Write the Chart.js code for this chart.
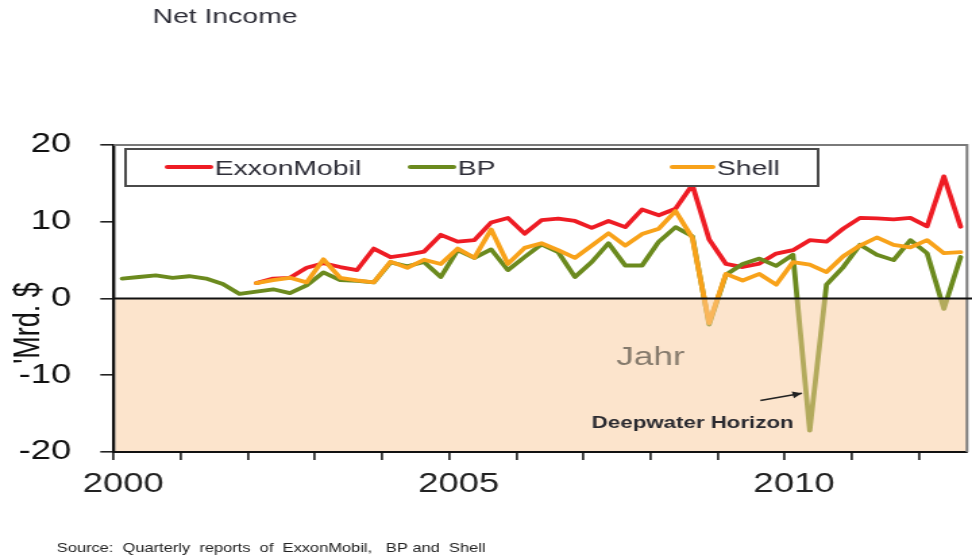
<!DOCTYPE html>
<html>
<head>
  <title>Net Income</title>
  <meta charset="UTF-8">
  <script src="https://cdn.jsdelivr.net/npm/chart.js"></script>
  <style>
    html, body {
      margin: 0;
      padding: 0;
      background: #fff;
      overflow: hidden;
    }

    #wrap {
      width: 972px;
      height: 559px;
      overflow: hidden;
    }

    /* the source picture is stretched sideways, so the canvas is too */
    #chart {
      display: block;
      transform: scaleX(1.35);
      transform-origin: 0 0;
    }
  </style>
</head>

<body>
  <div id="wrap"><canvas id="chart" width="720" height="559"></canvas></div>

  <script>
    const quarters = [
      '2000Q1', '2000Q2', '2000Q3', '2000Q4', '2001Q1', '2001Q2', '2001Q3', '2001Q4',
      '2002Q1', '2002Q2', '2002Q3', '2002Q4', '2003Q1', '2003Q2', '2003Q3', '2003Q4',
      '2004Q1', '2004Q2', '2004Q3', '2004Q4', '2005Q1', '2005Q2', '2005Q3', '2005Q4',
      '2006Q1', '2006Q2', '2006Q3', '2006Q4', '2007Q1', '2007Q2', '2007Q3', '2007Q4',
      '2008Q1', '2008Q2', '2008Q3', '2008Q4', '2009Q1', '2009Q2', '2009Q3', '2009Q4',
      '2010Q1', '2010Q2', '2010Q3', '2010Q4', '2011Q1', '2011Q2', '2011Q3', '2011Q4',
      '2012Q1', '2012Q2', '2012Q3'
    ];

    const exxonMobil = [
      null, null, null, null, null, null, null, null,
      2.0, 2.6, 2.7, 4.0, 4.6, 4.1, 3.7, 6.5,
      5.4, 5.7, 6.1, 8.3, 7.4, 7.6, 9.9, 10.5,
      8.45, 10.2, 10.4, 10.1, 9.2, 10.1, 9.3, 11.6,
      10.85, 11.7, 14.8, 7.7, 4.5, 4.1, 4.55, 5.85,
      6.3, 7.6, 7.4, 9.1, 10.5, 10.45, 10.3, 10.5,
      9.4, 15.9, 9.35
    ];

    const bp = [
      2.6, 2.8, 3.0, 2.7, 2.9, 2.6, 1.9, 0.6,
      0.9, 1.2, 0.7, 1.7, 3.4, 2.4, 2.3, 2.1,
      4.7, 4.2, 4.75, 2.8, 6.3, 5.3, 6.4, 3.7,
      5.4, 7.05, 6.05, 2.8, 4.75, 7.2, 4.3, 4.3,
      7.4, 9.3, 8.1, -3.4, 3.1, 4.5, 5.2, 4.25,
      5.7, -17.2, 1.8, 4.1, 7.0, 5.7, 5.0, 7.6,
      5.9, -1.35, 5.4
    ];

    const shell = [
      null, null, null, null, null, null, null, null,
      2.0, 2.4, 2.7, 2.1, 5.1, 2.7, 2.35, 2.1,
      4.8, 4.0, 5.05, 4.5, 6.5, 5.3, 9.0, 4.5,
      6.6, 7.2, 6.3, 5.3, 6.9, 8.5, 6.9, 8.4,
      9.1, 11.4, 7.9, -3.2, 3.2, 2.35, 3.2, 1.8,
      4.75, 4.4, 3.45, 5.5, 6.9, 7.95, 7.0, 6.65,
      7.6, 5.9, 6.05
    ];

    const yearLabels = [2000, 2005, 2010];
    const yTicks = [-20, -10, 0, 10, 20];

    const FONT = '"Liberation Sans", Arial, sans-serif';

    // mid-quarter position on the year axis
    function quarterToX(q) {
      const year = Number(q.slice(0, 4));
      const n = Number(q.slice(5));
      return year + (n - 0.5) / 4;
    }

    function toPoints(values) {
      return values.map((v, i) => ({ x: quarterToX(quarters[i]), y: v }));
    }

    // legend layout, canvas px
    const legendItems = [
      { line: [124, 156], text: 159 },
      { line: [304, 336], text: 339 },
      { line: [498, 528], text: 531 }
    ];

    const decorPlugin = {
      id: 'decor',
      afterDatasetsDraw(chart) {
        const ctx = chart.ctx;
        const a = chart.chartArea;
        const xs = chart.scales.x;
        const ys = chart.scales.y;
        const y0 = ys.getPixelForValue(0);

        ctx.save();

        // peach band below zero, laid over the lines
        ctx.fillStyle = 'rgba(249, 202, 154, 0.5)';
        ctx.fillRect(a.left + 1.2, y0, a.right - a.left - 1.2, a.bottom - y0 - 1);

        // frame top / right
        ctx.strokeStyle = '#7a7a7a';
        ctx.lineWidth = 2;
        ctx.beginPath();
        ctx.moveTo(a.left, a.top);
        ctx.lineTo(a.right, a.top);
        ctx.lineTo(a.right, a.bottom);
        ctx.stroke();

        // zero line
        ctx.strokeStyle = '#111';
        ctx.lineWidth = 2;
        ctx.beginPath();
        ctx.moveTo(a.left, y0);
        ctx.lineTo(chart.width, y0);
        ctx.stroke();

        // legend box
        ctx.fillStyle = '#fff';
        ctx.fillRect(93, 149, 513, 37);
        ctx.strokeStyle = '#4a4a4a';
        ctx.lineWidth = 2;
        ctx.strokeRect(93, 149, 513, 37);
        ctx.font = '21px ' + FONT;
        ctx.textBaseline = 'alphabetic';
        ctx.textAlign = 'left';
        chart.data.datasets.forEach((ds, i) => {
          const it = legendItems[i];
          ctx.strokeStyle = ds.borderColor;
          ctx.lineWidth = 4;
          ctx.lineCap = 'round';
          ctx.beginPath();
          ctx.moveTo(it.line[0], 167);
          ctx.lineTo(it.line[1], 167);
          ctx.stroke();
          ctx.fillStyle = '#2e2e38';
          ctx.fillText(ds.label, it.text, 175);
        });

        // "Jahr"
        ctx.font = '26px ' + FONT;
        ctx.fillStyle = '#857a6c';
        ctx.textAlign = 'center';
        ctx.fillText('Jahr', xs.getPixelForValue(2008.0), 365);

        // Deepwater Horizon note + arrow
        ctx.font = 'bold 16.5px ' + FONT;
        ctx.fillStyle = '#2a2a30';
        ctx.fillText('Deepwater Horizon', xs.getPixelForValue(2008.63), 428);

        const tx = xs.getPixelForValue(2009.64), ty = ys.getPixelForValue(-13.3);
        const hx = xs.getPixelForValue(2010.26), hy = ys.getPixelForValue(-12.35);
        ctx.strokeStyle = '#222';
        ctx.fillStyle = '#222';
        ctx.lineWidth = 1.6;
        ctx.lineCap = 'butt';
        ctx.beginPath();
        ctx.moveTo(tx, ty);
        ctx.lineTo(hx, hy);
        ctx.stroke();
        const ang = Math.atan2(hy - ty, hx - tx);
        ctx.beginPath();
        ctx.moveTo(hx, hy);
        ctx.lineTo(hx - 7 * Math.cos(ang) + 3.5 * Math.sin(ang), hy - 7 * Math.sin(ang) - 3.5 * Math.cos(ang));
        ctx.lineTo(hx - 7 * Math.cos(ang) - 3.5 * Math.sin(ang), hy - 7 * Math.sin(ang) + 3.5 * Math.cos(ang));
        ctx.closePath();
        ctx.fill();

        ctx.restore();
      },
      afterDraw(chart) {
        const ctx = chart.ctx;
        ctx.save();

        // title
        ctx.font = '21px ' + FONT;
        ctx.fillStyle = '#2e2e38';
        ctx.textAlign = 'left';
        ctx.textBaseline = 'alphabetic';
        ctx.fillText('Net Income', 113, 23);

        // y axis title, sits over the tick labels like the source
        ctx.translate(22, 323);
        ctx.rotate(-Math.PI / 2);
        ctx.font = '27px ' + FONT;
        ctx.fillStyle = '#111';
        ctx.textAlign = 'center';
        ctx.textBaseline = 'middle';
        ctx.fillText("'Mrd. $", 0, 0);
        ctx.setTransform(1, 0, 0, 1, 0, 0);

        // source
        ctx.font = '12.2px ' + FONT;
        ctx.fillStyle = '#222';
        ctx.textAlign = 'left';
        ctx.textBaseline = 'alphabetic';
        ctx.fillText('Source:  Quarterly  reports  of  ExxonMobil,   BP and  Shell', 42, 552);

        ctx.restore();
      }
    };

    const ctx = document.getElementById('chart').getContext('2d');

    new Chart(ctx, {
      type: 'line',
      data: {
        datasets: [
          { label: 'ExxonMobil', data: toPoints(exxonMobil), borderColor: '#ee1c24', order: 3 },
          { label: 'BP', data: toPoints(bp), borderColor: '#6b8a1e', order: 2 },
          { label: 'Shell', data: toPoints(shell), borderColor: '#f8a21a', order: 1 }
        ]
      },
      options: {
        responsive: false,
        animation: false,
        devicePixelRatio: 1,
        layout: { padding: { top: 145, right: 3.7, bottom: 0, left: 0 } },
        plugins: {
          legend: { display: false },
          tooltip: { enabled: false }
        },
        elements: {
          point: { radius: 0, hoverRadius: 0 },
          line: { borderWidth: 3.8, tension: 0, borderJoinStyle: 'round', borderCapStyle: 'round', fill: false }
        },
        scales: {
          x: {
            type: 'linear',
            min: 2000,
            max: 2012.72,
            afterFit: s => { s.height = 107; },
            border: { display: true, color: '#111', width: 2 },
            grid: { drawOnChartArea: false, drawTicks: true, tickLength: 8, color: '#333', lineWidth: 1.8 },
            ticks: {
              stepSize: 1,
              includeBounds: false,
              autoSkip: false,
              maxRotation: 0,
              labelOffset: 7,
              padding: 8,
              color: '#222',
              font: { family: FONT, size: 27 },
              callback: v => yearLabels.includes(v) ? String(v) : ''
            }
          },
          y: {
            min: -20,
            max: 20,
            afterFit: s => { s.width = 84.3; },
            afterBuildTicks: s => { s.ticks = yTicks.map(v => ({ value: v })); },
            border: { display: true, color: '#111', width: 2.4 },
            grid: { drawOnChartArea: false, drawTicks: true, tickLength: 10, color: '#222', lineWidth: 1.6 },
            ticks: {
              padding: 21.5,
              color: '#111',
              font: { family: FONT, size: 27 }
            }
          }
        }
      },
      plugins: [decorPlugin]
    });
  </script>
</body>

</html>
